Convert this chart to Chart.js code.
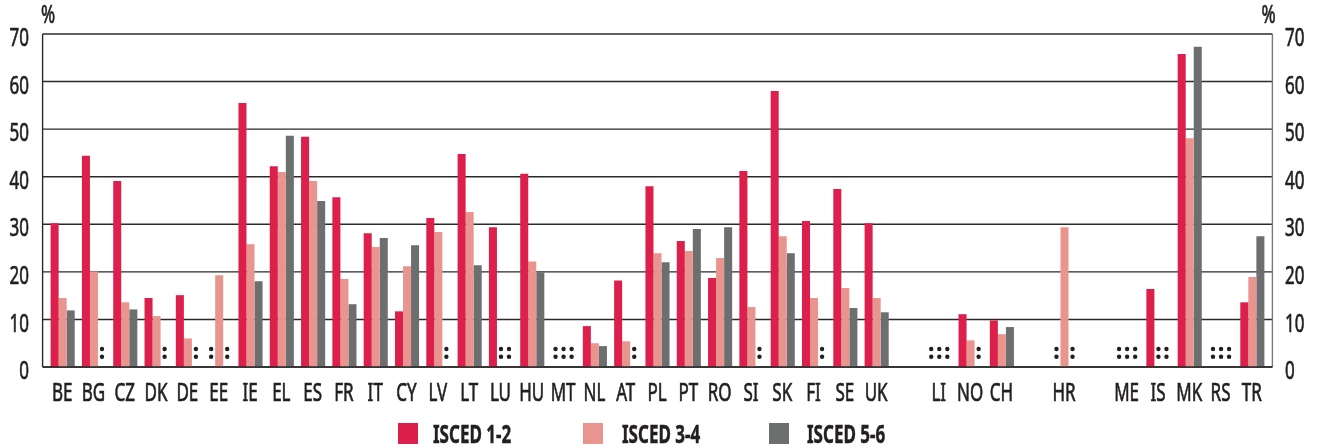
<!DOCTYPE html>
<html><head><meta charset="utf-8">
<script src="https://cdn.jsdelivr.net/npm/chart.js@4/dist/chart.umd.min.js"></script>
<style>
html,body{margin:0;padding:0;background:#fff;}
#wrap{position:relative;width:1322px;height:448px;overflow:hidden;}
canvas{position:absolute;left:0;top:0;}
.sw{position:absolute;top:423px;width:20px;height:21px;}
.lt{position:absolute;top:419px;height:28px;line-height:28px;font-family:"Noto Sans","Open Sans",sans-serif;font-weight:bold;font-size:25px;color:#231f20;white-space:nowrap;transform-origin:0 50%;-webkit-text-stroke:0.5px #231f20;}
</style></head>
<body><div id="wrap"><canvas id="c" width="1322" height="448"></canvas><div id="legend"></div></div>
<script>
const categories = ['BE','BG','CZ','DK','DE','EE','IE','EL','ES','FR','IT','CY','LV','LT','LU','HU','MT','NL','AT','PL','PT','RO','SI','SK','FI','SE','UK','','LI','NO','CH','','HR','','ME','IS','MK','RS','TR'];
const isced12 = [30.2,44.4,39.1,14.5,15.1,null,55.5,42.2,48.4,35.7,28.1,11.7,31.3,44.8,29.4,40.6,null,8.6,18.2,38.0,26.5,18.7,41.2,58.0,30.7,37.4,30.2,null,null,11.1,9.8,null,null,null,null,16.4,65.8,null,13.6];
const isced34 = [14.5,20.1,13.6,10.7,6.0,19.3,25.8,41.0,39.1,18.5,25.2,21.2,28.4,32.6,null,22.2,null,5.0,5.4,23.9,24.4,22.9,12.6,27.5,14.5,16.6,14.5,null,null,5.6,6.9,null,29.4,null,null,null,48.1,null,18.9];
const isced56 = [11.9,null,12.1,null,null,null,18.0,48.6,34.9,13.2,27.1,25.6,null,21.4,null,19.9,null,4.4,null,22.0,29.0,29.4,null,23.9,null,12.4,11.5,null,null,null,8.4,null,null,null,null,null,67.3,null,27.5];
const seriesNames = ['ISCED 1-2','ISCED 3-4','ISCED 5-6'];
const yTicks = [0,10,20,30,40,50,60,70];
const unitLabel = '%';

const colors = ['#dc1f4b','#e8958f','#6d6e70'];
const textColor = '#231f20';
const fontFam = '"Noto Sans","Open Sans",sans-serif';
const squeeze = 0.68;

// legend (HTML)
const legX = [398,583,769];
const legT = [433,622,807];
const leg = document.getElementById('legend');
seriesNames.forEach((n,i)=>{
  const s=document.createElement('div'); s.className='sw'; s.style.left=legX[i]+'px'; s.style.background=colors[i]; leg.appendChild(s);
  const t=document.createElement('div'); t.className='lt'; t.style.left=legT[i]+'px'; t.style.transform='scaleX('+squeeze+')'; t.textContent=n; leg.appendChild(t);
});

function sqText(ctx,txt,x,y,align){
  ctx.save();
  ctx.translate(x,y); ctx.scale(squeeze,1);
  ctx.textAlign=align; ctx.textBaseline='alphabetic';
  ctx.fillText(txt,0,0);
  ctx.lineWidth=0.7; ctx.strokeStyle=textColor;
  ctx.strokeText(txt,0,0);
  ctx.restore();
}

const framePlugin = {
  id:'frame',
  beforeDatasetsDraw(chart){
    const {ctx, chartArea:a, scales:{y}} = chart;
    const L = a.left-4.4, R = a.right+4.4;
    ctx.save();
    ctx.strokeStyle='#2a2a2a'; ctx.lineWidth=1.4;
    yTicks.forEach(v=>{
      const py=y.getPixelForValue(v);
      ctx.beginPath(); ctx.moveTo(L,py); ctx.lineTo(R,py); ctx.stroke();
    });
    ctx.beginPath(); ctx.moveTo(L,y.getPixelForValue(yTicks[yTicks.length-1])); ctx.lineTo(L,y.getPixelForValue(0)); ctx.stroke();
    ctx.strokeStyle='#7a7a7a';
    ctx.beginPath(); ctx.moveTo(R,y.getPixelForValue(yTicks[yTicks.length-1])); ctx.lineTo(R,y.getPixelForValue(0)); ctx.stroke();
    ctx.restore();
  },
  afterDatasetsDraw(chart){
    const {ctx, chartArea:a, scales:{x,y}} = chart;
    const base=y.getPixelForValue(0);
    ctx.save();
    ctx.strokeStyle='#2a2a2a'; ctx.lineWidth=1.4;
    ctx.beginPath(); ctx.moveTo(a.left-4.4,base); ctx.lineTo(a.right+4.4,base); ctx.stroke();
    ctx.fillStyle=textColor;
    chart.data.datasets.forEach((ds,d)=>{
      const meta=chart.getDatasetMeta(d);
      ds.data.forEach((v,i)=>{
        if(v===null && categories[i]!==''){
          const px=meta.data[i].x;
          [18,10.3].forEach(off=>{ctx.beginPath(); ctx.arc(px,base-off,2.2,0,Math.PI*2); ctx.fill();});
        }
      });
    });
    // tick labels
    ctx.font='25px '+fontFam;
    yTicks.forEach(v=>{
      const py=y.getPixelForValue(v)+12.2;
      sqText(ctx,String(v),a.left-18,py,'right');
      sqText(ctx,String(v),a.right+17,py,'left');
    });
    categories.forEach((c,i)=>{
      if(c) sqText(ctx,c,x.getPixelForTick(i)-0.5,base+33.5,'center');
    });
    sqText(ctx,unitLabel,48,23,'center');
    sqText(ctx,unitLabel,1268.5,23,'center');
    ctx.restore();
  }
};

new Chart(document.getElementById('c'),{
  type:'bar',
  data:{labels:categories,datasets:[
    {label:seriesNames[0],data:isced12,backgroundColor:colors[0]},
    {label:seriesNames[1],data:isced34,backgroundColor:colors[1]},
    {label:seriesNames[2],data:isced56,backgroundColor:colors[2]}
  ]},
  options:{
    responsive:false,animation:false,
    datasets:{bar:{categoryPercentage:0.77,barPercentage:1.0,borderWidth:0}},
    layout:{padding:{top:34,bottom:41,left:0,right:0}},
    plugins:{legend:{display:false},tooltip:{enabled:false}},
    scales:{
      x:{grid:{display:false},border:{display:false},ticks:{display:false,autoSkip:false},
         afterFit(s){s.height=40;}},
      y:{position:'left',min:0,max:70,grid:{display:false},border:{display:false},
         ticks:{display:false,stepSize:10},
         afterFit(s){s.width=47;}},
      y2:{position:'right',display:true,min:0,max:70,grid:{display:false},border:{display:false},
         ticks:{display:false,stepSize:10},
         afterFit(s){s.width=54;}}
    }
  },
  plugins:[framePlugin]
});
</script></body></html>
